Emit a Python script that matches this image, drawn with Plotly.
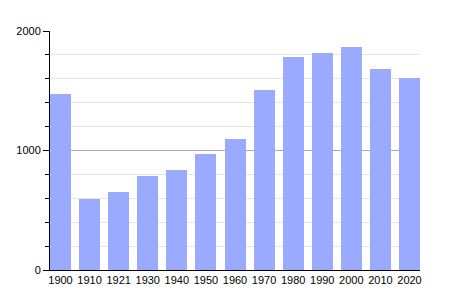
import plotly.graph_objects as go

years = ["1900", "1910", "1921", "1930", "1940", "1950", "1960", "1970", "1980", "1990", "2000", "2010", "2020"]
population = [1473, 594, 650, 787, 837, 971, 1096, 1506, 1782, 1816, 1866, 1682, 1607]

bar_frac = 0.722

fig = go.Figure(go.Bar(
    x=years, y=population,
    marker=dict(color="#99aaff", line=dict(width=0)),
    width=bar_frac,
))

fig.update_layout(
    width=450, height=300,
    margin=dict(l=50, r=30, t=31, b=30),
    paper_bgcolor="white", plot_bgcolor="white",
    font=dict(family="Liberation Sans, Arial, sans-serif", size=11, color="black"),
    showlegend=False,
    bargap=0,
)
fig.update_xaxes(
    type="category",
    range=[-bar_frac / 2, len(years) - 1 + bar_frac / 2],
    showline=True, linecolor="black", linewidth=1,
    ticks="", showgrid=False, tickfont=dict(size=11),
)
fig.update_yaxes(
    range=[0, 2000], dtick=1000, tick0=0,
    showline=True, linecolor="black", linewidth=1,
    ticks="outside", ticklen=6, tickcolor="black",
    showgrid=True, gridcolor="#aaaaaa", gridwidth=1,
    zeroline=False,
    minor=dict(dtick=200, showgrid=True, gridcolor="#e6e6e6", ticks="outside", ticklen=4, tickcolor="black"),
    tickfont=dict(size=11),
)

fig.write_html("out.html")
